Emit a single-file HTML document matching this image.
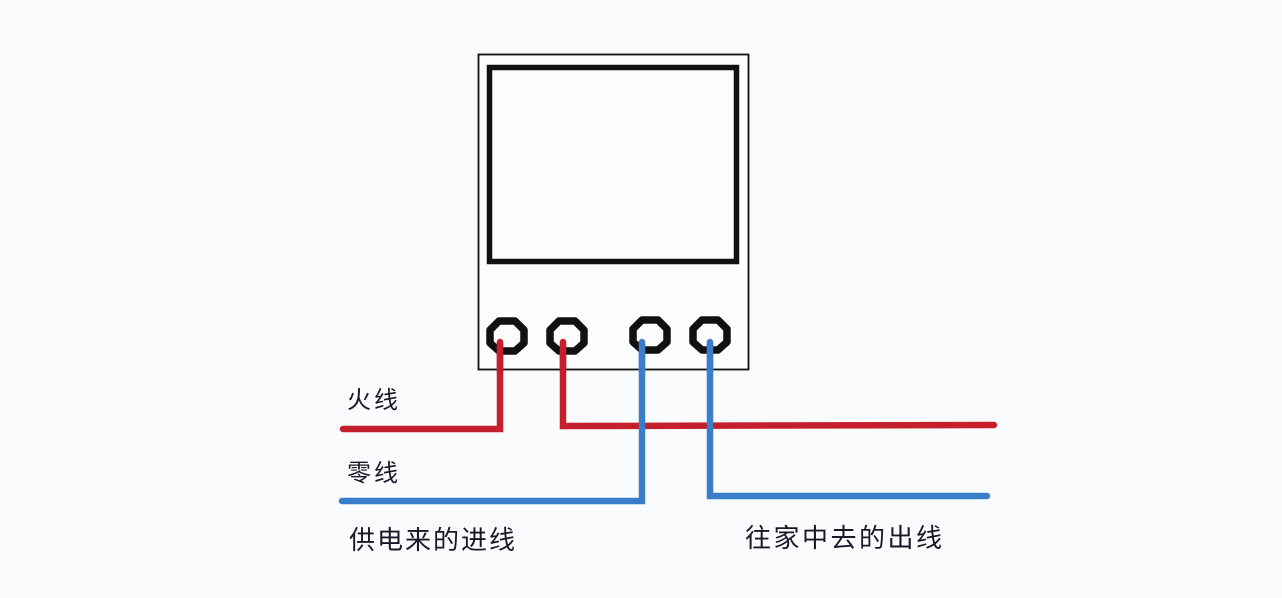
<!DOCTYPE html>
<html>
<head>
<meta charset="utf-8">
<style>
  html,body{margin:0;padding:0;background:#fafbfd;}
  body{width:1282px;height:598px;overflow:hidden;}
  svg{display:block;}
  text{font-family:"Liberation Sans","Noto Sans CJK SC","WenQuanYi Zen Hei",sans-serif;fill:#1a1828;}
</style>
</head>
<body>
<svg width="1282" height="598" viewBox="0 0 1282 598" xmlns="http://www.w3.org/2000/svg">
  <rect x="0" y="0" width="1282" height="598" fill="#fafbfd"/>
  <!-- meter outer box -->
  <rect x="478.5" y="54.5" width="270" height="315" fill="#fdfdfe" stroke="#111" stroke-width="1.8"/>
  <!-- display window -->
  <rect x="489.5" y="67.5" width="247" height="194" fill="#fcfcfe" stroke="#111" stroke-width="5.5"/>

  <!-- wires -->
  <g fill="none" stroke-linecap="round" stroke-linejoin="miter" stroke-width="6.5">
    <polyline points="343,429 500,429 500,342" stroke="#c61f2c"/>
    <polyline points="563,342 563,426 994,425" stroke="#c61f2c"/>
    <polyline points="342,501 642,501 642,342" stroke="#3a7ec9"/>
    <polyline points="710,342 710,496 987,496" stroke="#3a7ec9"/>
  </g>

  <!-- terminals (octagon rings) -->
  <g fill="none" stroke="#111" stroke-width="7.5" stroke-linejoin="round">
    <polygon points="499,321 515,321 524,330 524,343 515,351 499,351 490,343 490,330"/>
    <polygon points="559,321 575,321 584,330 584,343 575,351 559,351 550,343 550,330"/>
    <polygon points="642,320 658,320 667,329 667,342 658,350 642,350 633,342 633,329"/>
    <polygon points="702,320 718,320 727,329 727,342 718,350 702,350 693,342 693,329"/>
  </g>
  <!-- wire ends overlapping terminals -->
  <g stroke-width="6.5" stroke-linecap="round">
    <line x1="500" y1="345" x2="500" y2="372" stroke="#c61f2c"/>
    <line x1="563" y1="345" x2="563" y2="372" stroke="#c61f2c"/>
    <line x1="642" y1="344" x2="642" y2="372" stroke="#3a7ec9"/>
    <line x1="710" y1="344" x2="710" y2="372" stroke="#3a7ec9"/>
  </g>

  <!-- labels -->
  <text x="347" y="408" font-size="24" letter-spacing="3">火线</text>
  <text x="347" y="481" font-size="24" letter-spacing="3">零线</text>
  <text x="349" y="549" font-size="26" letter-spacing="2">供电来的进线</text>
  <text x="745" y="547" font-size="26" letter-spacing="2.5">往家中去的出线</text>
</svg>
</body>
</html>
